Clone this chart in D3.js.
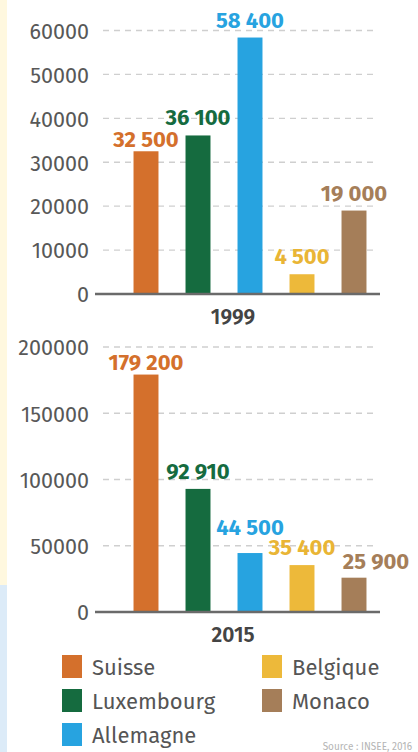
<!DOCTYPE html>
<html>
<head>
<meta charset="utf-8">
<script src="https://cdn.jsdelivr.net/npm/d3@7"></script>
<style>
  html, body { margin: 0; padding: 0; background: #fff; }
  svg { display: block; }
  text { font-family: "Fira Sans", "Open Sans", "Noto Sans", sans-serif; }
</style>
</head>
<body>
<svg id="chart" width="418" height="752"></svg>
<script>
// ---- data ----
const countries = ["Suisse", "Luxembourg", "Allemagne", "Belgique", "Monaco"];
const colors = ["#D4702C", "#156B3F", "#27A3E0", "#EDB93A", "#A57E59"];
const labelColors = ["#D4702C", "#156B3F", "#27A3E0", "#E9B535", "#A57E59"];
const values1999 = [32500, 36100, 58400, 4500, 19000];
const values2015 = [179200, 92910, 44500, 35400, 25900];
const ticks1999 = [0, 10000, 20000, 30000, 40000, 50000, 60000];
const ticks2015 = [0, 50000, 100000, 150000, 200000];
const years = ["1999", "2015"];
const sourceText = "Source : INSEE, 2016";

const svg = d3.select("#chart");

// page background strips
svg.append("rect").attr("x", 0).attr("y", 0).attr("width", 7).attr("height", 585).attr("fill", "#FFF8DF");
svg.append("rect").attr("x", 0).attr("y", 585).attr("width", 7).attr("height", 167).attr("fill", "#DCEBF8");

const fmt = d3.formatLocale({ decimal: ",", thousands: " ", grouping: [3], currency: ["", " €"] }).format(",d");

const x = d3.scaleBand().domain(countries).range([120, 380]).paddingInner(0.52).paddingOuter(0.26);

// label nudges to avoid collisions (as in original)
const nudge = {
  "1999|Suisse": { dx: 0, dy: 6 },
  "2015|Suisse": { dx: 0, dy: 5 },
  "2015|Allemagne": { dx: 0, dy: -8 },
  "2015|Monaco": { dx: 22, dy: 1 }
};

function panel(year, values, ticks, yTop, yBottom) {
  const y = d3.scaleLinear().domain([0, d3.max(ticks)]).range([yBottom, yTop]);
  const g = svg.append("g");

  // grid
  g.selectAll("line.grid").data(ticks.filter(t => t > 0)).join("line")
    .attr("x1", 103).attr("x2", 378)
    .attr("y1", d => y(d)).attr("y2", d => y(d))
    .attr("stroke", "#CFCFCF").attr("stroke-width", 1.4).attr("stroke-dasharray", "6,5");

  // axis
  const axis = d3.axisLeft(y).tickValues(ticks).tickSize(0).tickPadding(6).tickFormat(d3.format("d"));
  const ax = g.append("g").attr("transform", "translate(95,0)").call(axis);
  ax.select(".domain").remove();
  ax.selectAll("text")
    .attr("fill", "#585858").attr("font-size", 21.5)
    .style("font-family", '"Fira Sans", "Open Sans", sans-serif')
    .attr("dy", "0.36em");

  // bars
  g.selectAll("rect.bar").data(countries).join("rect")
    .attr("x", d => x(d)).attr("width", x.bandwidth())
    .attr("y", (d, i) => y(values[i]))
    .attr("height", (d, i) => y(0) - y(values[i]))
    .attr("fill", (d, i) => colors[i]);

  // baseline
  g.append("line").attr("x1", 95).attr("x2", 380).attr("y1", y(0)).attr("y2", y(0))
    .attr("stroke", "#6a6a6a").attr("stroke-width", 2.5);

  // value labels
  g.selectAll("text.val").data(countries).join("text")
    .attr("x", d => x(d) + x.bandwidth() / 2 + ((nudge[year + "|" + d] || {}).dx || 0))
    .attr("y", (d, i) => y(values[i]) - 10 + ((nudge[year + "|" + d] || {}).dy || 0))
    .attr("text-anchor", "middle")
    .attr("font-size", 22).attr("font-weight", 700)
    .attr("fill", (d, i) => labelColors[i])
    .text((d, i) => fmt(values[i]));

  // year label
  g.append("text").attr("x", 233).attr("y", y(0) + 30)
    .attr("text-anchor", "middle").attr("font-size", 21).attr("font-weight", 600)
    .attr("fill", "#444").text(year);
}

panel(years[0], values1999, ticks1999, 30.5, 294);
panel(years[1], values2015, ticks2015, 347, 612);

// legend
const legendCols = [62, 262];
const legendRows = [655, 689, 723];
const legendItems = countries.map((c, i) => ({ c, i, col: i < 3 ? 0 : 1, row: i < 3 ? i : i - 3 }));
const lg = svg.append("g");
legendItems.forEach(it => {
  const lx = legendCols[it.col], ly = legendRows[it.row];
  lg.append("rect").attr("x", lx).attr("y", ly).attr("width", 20).attr("height", 23).attr("fill", colors[it.i]);
  lg.append("text").attr("x", lx + 30).attr("y", ly + 20)
    .attr("font-size", 22).attr("fill", "#555").text(it.c);
});

// source (small, at the very bottom)
svg.append("text").attr("x", 412).attr("y", 750).attr("font-size", 10)
  .attr("text-anchor", "end").attr("fill", "#b5b5b5").text(sourceText);
</script>
</body>
</html>
